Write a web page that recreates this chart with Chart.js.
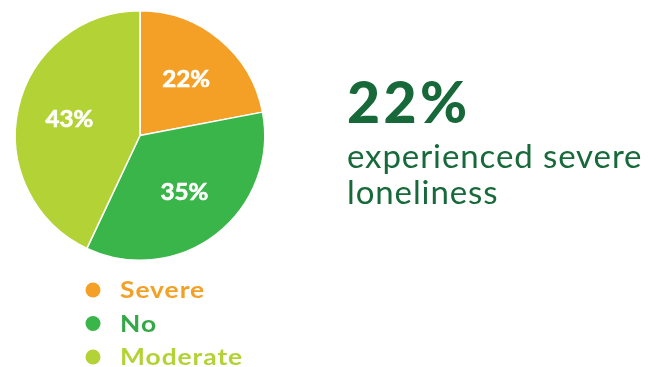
<!DOCTYPE html>
<html>
<head>
<meta charset="utf-8">
<script src="https://cdn.jsdelivr.net/npm/chart.js@4.4.0/dist/chart.umd.min.js"></script>
<style>
  html, body { margin: 0; padding: 0; background: #fff; }
  #wrap { position: relative; width: 661px; height: 367px; }
  #lonelyPie { position: absolute; left: 0; top: 0; }
  .stat { position: absolute; left: 347px; color: #17693a; font-family: Lato, "Open Sans", sans-serif; white-space: nowrap; }
  #statBig { top: 69px; font-size: 57px; font-weight: 900; line-height: 64px; letter-spacing: 3.5px; }
  #statText { top: 137px; font-size: 33px; font-weight: 400; line-height: 36px; letter-spacing: 0.9px; }
</style>
</head>
<body>
<div id="wrap">
  <canvas id="lonelyPie" width="661" height="367"></canvas>
  <div class="stat" id="statBig">22%</div>
  <div class="stat" id="statText">experienced severe<br>loneliness</div>
</div>
<script>
const categories = ["Severe", "No", "Moderate"];
const shares = [22, 35, 43];
const sliceColors = ["#f4a027", "#39b54a", "#b3d236"];
const legendTextColors = ["#f4a027", "#34a846", "#b3d236"];

// draw text stretched horizontally (the labels use a wide geometric face)
function wideText(ctx, text, x, y, stretch) {
    ctx.save();
    ctx.translate(x, y);
    ctx.scale(stretch, 1);
    ctx.fillText(text, 0, 0);
    ctx.restore();
}

// percent labels inside each slice
const sliceLabels = {
    id: 'sliceLabels',
    afterDatasetsDraw(chart) {
        const ctx = chart.ctx;
        const meta = chart.getDatasetMeta(0);
        ctx.save();
        ctx.font = 'bold 22px Lato, sans-serif';
        ctx.fillStyle = '#ffffff';
        ctx.strokeStyle = '#ffffff';
        ctx.lineWidth = 0.6;
        ctx.textAlign = 'center';
        ctx.textBaseline = 'middle';
        meta.data.forEach((arc, i) => {
            const p = arc.getProps(['x', 'y', 'startAngle', 'endAngle', 'outerRadius']);
            const mid = (p.startAngle + p.endAngle) / 2;
            const r = p.outerRadius * 0.58;
            const x = p.x + Math.cos(mid) * r;
            const y = p.y + Math.sin(mid) * r;
            ctx.save();
            ctx.translate(x, y);
            ctx.scale(1.1, 1);
            ctx.fillText(shares[i] + '%', 0, 0);
            ctx.strokeText(shares[i] + '%', 0, 0);
            ctx.restore();
        });
        ctx.restore();
    }
};

// vertical legend under the pie
const dotLegend = {
    id: 'dotLegend',
    afterDraw(chart) {
        const ctx = chart.ctx;
        ctx.save();
        ctx.font = 'bold 22px Lato, sans-serif';
        ctx.textBaseline = 'middle';
        ctx.letterSpacing = '0.8px';
        categories.forEach((name, i) => {
            const y = 290 + i * 33.5;
            ctx.beginPath();
            ctx.arc(93, y, 7.5, 0, Math.PI * 2);
            ctx.fillStyle = sliceColors[i];
            ctx.fill();
            ctx.fillStyle = legendTextColors[i];
            wideText(ctx, name, 120, y + 1, 1.2);
        });
        ctx.restore();
    }
};

new Chart(document.getElementById('lonelyPie'), {
    type: 'pie',
    data: {
        labels: categories,
        datasets: [{
            data: shares,
            backgroundColor: sliceColors,
            borderColor: '#ffffff',
            borderWidth: 1.5
        }]
    },
    options: {
        responsive: false,
        animation: false,
        layout: {
            padding: { left: 14, right: 395, top: 10, bottom: 106 }
        },
        plugins: {
            legend: { display: false },
            tooltip: { enabled: false }
        }
    },
    plugins: [sliceLabels, dotLegend]
});
</script>
</body>
</html>
